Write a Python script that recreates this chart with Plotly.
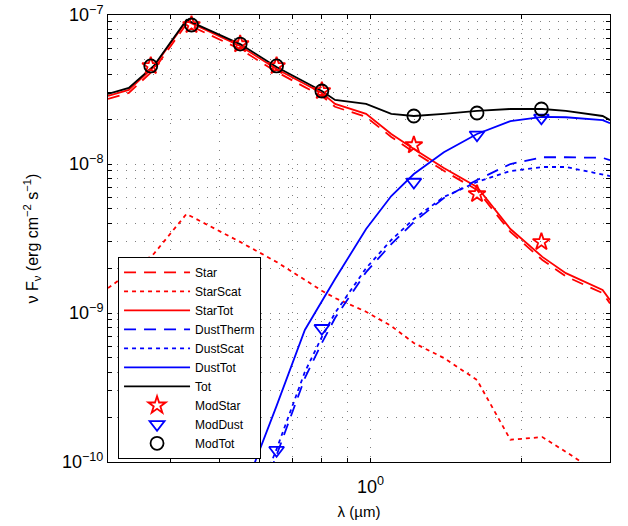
import math
import plotly.graph_objects as go

# model wavelength grid (micron) shared by the SED curves
lam = [0.30, 0.33, 0.37, 0.43, 0.55, 0.65, 0.74, 0.80, 0.85, 0.98,
       1.10, 1.22, 1.40, 1.63, 1.90, 2.20, 2.45, 2.90, 3.00]

# curves (erg cm^-2 s^-1), None = no model value drawn
star = [2.73e-8, 3.0e-8, 4.28e-8, 8.7e-8, 5.9e-8, 4.15e-8, 3.28e-8, 2.86e-8, 2.42e-8, 2.07e-8,
        1.52e-8, 1.2e-8, 9.0e-9, 6.7e-9, 3.5e-9, 2.27e-9, 1.76e-9, 1.36e-9, 1.16e-9]
star_scat = [1.47e-9, 1.85e-9, 2.49e-9, 4.62e-9, 3.0e-9, 2.2e-9, 1.67e-9, 1.41e-9, 1.26e-9, 1.02e-9,
             8.18e-10, 6.29e-10, 4.99e-10, 3.55e-10, 1.41e-10, 1.47e-10, 1.17e-10, 8.2e-11, 7.5e-11]
star_tot = [2.86e-8, 3.14e-8, 4.48e-8, 9.12e-8, 6.19e-8, 4.34e-8, 3.44e-8, 3.0e-8, 2.53e-8, 2.17e-8,
            1.59e-8, 1.26e-8, 9.4e-9, 7.01e-9, 3.66e-9, 2.38e-9, 1.85e-9, 1.43e-9, 1.22e-9]
dust_therm = [None, None, None, None, 2.7e-11, 1.11e-10, 3.66e-10, 6.29e-10, 9.25e-10, 1.88e-9,
              2.9e-9, 4.08e-9, 5.91e-9, 7.81e-9, 1.0e-8, 1.11e-8, 1.11e-8, 1.1e-8, 1.06e-8]
dust_scat = [None, None, None, None, 3.0e-11, 1.22e-10, 4.02e-10, 6.9e-10, 1.0e-9, 2.0e-9,
             3.09e-9, 4.28e-9, 6.01e-9, 7.57e-9, 8.97e-9, 9.55e-9, 9.55e-9, 8.57e-9, 8.3e-9]
dust_tot = [None, None, None, None, 5.5e-11, 2.38e-10, 7.69e-10, 1.2e-9, 1.69e-9, 3.66e-9,
            6.1e-9, 8.57e-9, 1.2e-8, 1.59e-8, 1.94e-8, 2.07e-8, 2.06e-8, 1.97e-8, 1.88e-8]
tot = [2.95e-8, 3.24e-8, 4.55e-8, 9.26e-8, 6.38e-8, 4.48e-8, 3.55e-8, 3.09e-8, 2.69e-8, 2.53e-8,
       2.17e-8, 2.1e-8, 2.17e-8, 2.27e-8, 2.34e-8, 2.34e-8, 2.27e-8, 2.1e-8, 1.97e-8]

# photometric bands U B V R I J H K
band_lam = [0.365, 0.44, 0.55, 0.65, 0.80, 1.22, 1.63, 2.19]
mod_star = [4.55e-8, 8.57e-8, 6.38e-8, 4.55e-8, 3.09e-8, 1.34e-8, 6.29e-9, 3.0e-9]
mod_tot = [4.55e-8, 8.57e-8, 6.38e-8, 4.55e-8, 3.09e-8, 2.1e-8, 2.2e-8, 2.34e-8]
dust_band_lam = [0.65, 0.80, 1.22, 1.63, 2.19]
mod_dust = [1.2e-10, 7.9e-10, 7.57e-9, 1.57e-8, 2.04e-8]

# ticks: grid at every 1..9 step, labels only at decades
x_ticks = [0.3, 0.4, 0.5, 0.6, 0.7, 0.8, 0.9, 1, 2, 3]
x_labels = ["" if v != 1 else "10<sup>0</sup>" for v in x_ticks]
y_ticks = [m * 10.0 ** e for e in (-10, -9, -8) for m in range(1, 10)] + [1e-7]
y_labels = []
for v in y_ticks:
    e = round(math.log10(v), 6)
    y_labels.append("10<sup>\u2212%d</sup>" % -int(e) if float(e).is_integer() else "")

RED = "#ff0000"
BLUE = "#0000ff"
LONG = "12px,8px"
SHORT = "4px,4px"

fig = go.Figure()
lines = [
    ("Star", star, RED, LONG),
    ("StarScat", star_scat, RED, SHORT),
    ("StarTot", star_tot, RED, "solid"),
    ("DustTherm", dust_therm, BLUE, LONG),
    ("DustScat", dust_scat, BLUE, SHORT),
    ("DustTot", dust_tot, BLUE, "solid"),
    ("Tot", tot, "black", "solid"),
]
for name, vals, col, dash in lines:
    fig.add_trace(go.Scatter(x=lam, y=vals, name=name, mode="lines",
                             line=dict(color=col, width=1.8, dash=dash)))

fig.add_trace(go.Scatter(x=band_lam, y=mod_star, name="ModStar", mode="markers",
                         marker=dict(symbol="star-open", size=13, color=RED, line=dict(width=1.8))))
fig.add_trace(go.Scatter(x=dust_band_lam, y=mod_dust, name="ModDust", mode="markers",
                         marker=dict(symbol="triangle-down-open", size=13, color=BLUE, line=dict(width=1.8))))
fig.add_trace(go.Scatter(x=band_lam, y=mod_tot, name="ModTot", mode="markers",
                         marker=dict(symbol="circle-open", size=13, color="black", line=dict(width=1.8))))

axis_common = dict(
    type="log", showline=True, linecolor="black", linewidth=1, mirror="allticks",
    ticks="inside", ticklen=4, tickcolor="black", showgrid=True, automargin=False,
    gridcolor="rgba(0,0,0,0.5)", griddash="1px,8px", gridwidth=1, zeroline=False,
    tickfont=dict(size=18, color="black"), ticklabeloverflow="allow",
)
fig.update_xaxes(**axis_common, range=[-0.5229, 0.4771], tickmode="array",
                 tickvals=x_ticks, ticktext=x_labels, ticklabelstandoff=8,
                 title=dict(text="\u03bb (\u00b5m)", font=dict(size=15), standoff=10))
fig.update_yaxes(**axis_common, range=[-10, -7], tickmode="array",
                 tickvals=y_ticks, ticktext=y_labels,
                 title=dict(text="\u03bd F<sub>\u03bd</sub> (erg cm<sup>\u22122</sup> s<sup>\u22121</sup>)",
                            font=dict(size=16), standoff=19))

fig.update_layout(
    width=628, height=526,
    margin=dict(l=108, r=18, t=15, b=64, autoexpand=False),
    paper_bgcolor="white", plot_bgcolor="white",
    font=dict(family="Arial, Liberation Sans, sans-serif", color="black"),
    legend=dict(x=0.02, y=0.459, xanchor="left", yanchor="top",
                bordercolor="black", borderwidth=1, bgcolor="white",
                font=dict(size=12), itemwidth=66, tracegroupgap=0),
)

# drop the browser's default 8px body margin so the figure sits at the page corner
fig.write_html("out.html", config={"displayModeBar": False},
               post_script="document.body.style.margin = '0px';")
